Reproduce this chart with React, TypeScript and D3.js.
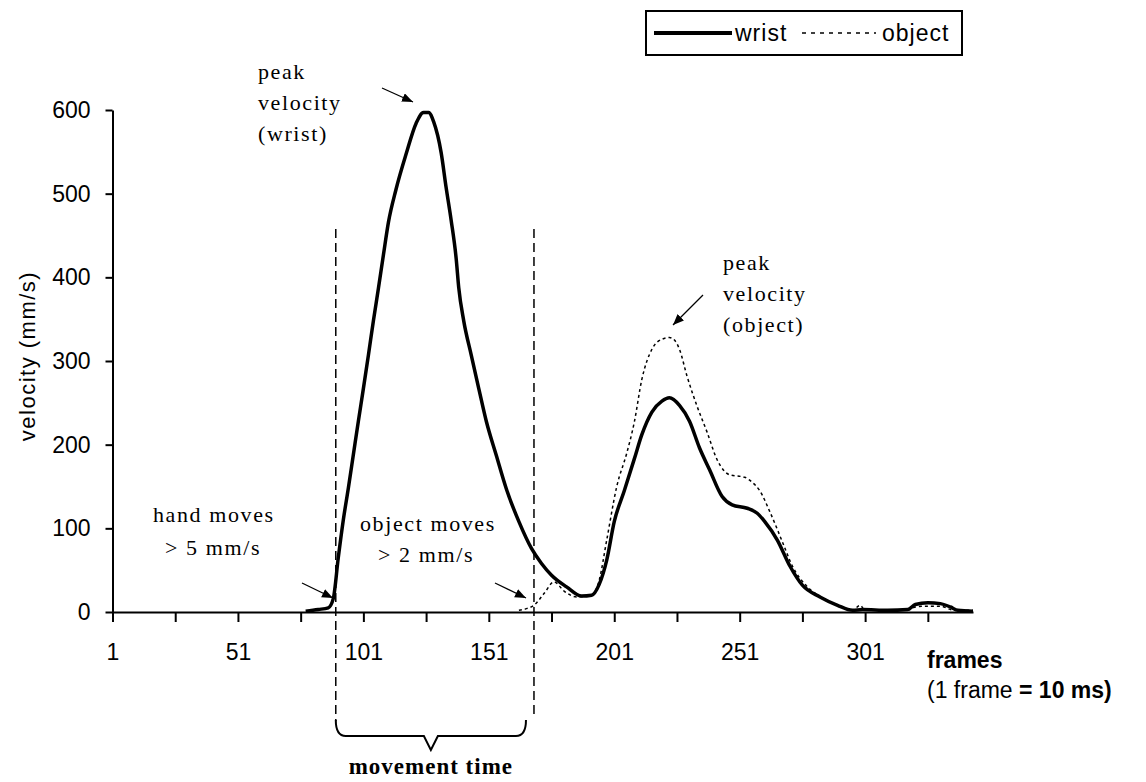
import { useEffect, useRef } from "react";
import * as d3 from "d3";

// Velocity traces: frame number -> velocity (mm/s)
const wristFrames = [78, 83, 87, 89, 91, 93, 95, 97, 99, 101, 103, 105, 107, 109, 111, 114, 118, 122, 125, 127, 129, 132, 134, 136, 138, 139, 141, 144, 147, 150, 154, 158, 163, 168, 172, 176, 182, 188, 192, 195, 198, 201, 205, 209, 212, 216, 220, 223, 227, 231, 235, 239, 244, 248, 254, 258, 261, 266, 271, 276, 283, 290, 296, 300, 310, 318, 321, 326, 331, 335, 338, 344];
const wristVelocity = [1, 3, 5, 16, 65, 110, 148, 188, 228, 267, 307, 348, 387, 427, 466, 505, 547, 584, 597, 597, 586, 549, 507, 468, 422, 388, 348, 307, 267, 228, 187, 147, 108, 76, 58, 44, 30, 19, 20, 33, 62, 108, 145, 183, 212, 239, 252, 256, 247, 228, 196, 170, 138, 128, 124, 118, 108, 86, 55, 32, 18, 8, 2, 3, 2, 3, 9, 11, 10, 6, 2, 1];

const objectFrames = [163, 166, 169, 173, 177, 181, 186, 192, 195, 198, 202, 206, 209, 212, 216, 220, 223, 225, 227, 230, 234, 238, 242, 247, 253, 256, 259, 263, 268, 272, 278, 284, 290, 296, 299, 301, 304, 318, 321, 326, 331, 335, 338, 344];
const objectVelocity = [2, 4, 8, 22, 36, 25, 18, 20, 38, 86, 150, 190, 227, 278, 314, 326, 328, 325, 314, 282, 246, 215, 182, 164, 161, 155, 145, 120, 84, 55, 30, 17, 8, 2, 8, 2, 2, 2, 6, 7, 7, 3, 2, 2];

const yTicks = [0, 100, 200, 300, 400, 500, 600];
const xTickFrames = [1, 26, 51, 76, 101, 126, 151, 176, 201, 226, 251, 276, 301, 326];
const xTickLabels = ["1", "51", "101", "151", "201", "251", "301"];

// frames where hand / object start moving (movement time markers)
const movementStart = 90;
const movementEnd = 169;

const sans = "'Liberation Sans', Arial, sans-serif";
const serif = "'Liberation Serif', 'Times New Roman', serif";

function VelocityChart() {
    const ref = useRef(null);
    const width = 1146, height = 782;

    useEffect(() => {
        const svg = d3.select(ref.current);
        svg.selectAll("*").remove();

        const x = d3.scaleLinear().domain([1, 344]).range([112.5, 973]);
        const y = d3.scaleLinear().domain([0, 600]).range([612, 110]);

        // arrow head marker for the annotations
        svg.append("defs")
            .append("marker")
            .attr("id", "arrowhead")
            .attr("markerUnits", "userSpaceOnUse")
            .attr("markerWidth", 12)
            .attr("markerHeight", 10)
            .attr("refX", 11)
            .attr("refY", 4.5)
            .attr("orient", "auto")
            .append("path")
            .attr("d", "M0,0 L11,4.5 L0,9 Z")
            .attr("fill", "black");

        // y axis
        const yAxis = svg.append("g")
            .attr("transform", `translate(${x(1)},0)`)
            .call(d3.axisLeft(y).tickValues(yTicks).tickSize(7).tickSizeOuter(0).tickPadding(15));
        yAxis.selectAll("path, line").attr("stroke", "black").attr("stroke-width", 2);
        yAxis.selectAll("text").attr("font-family", sans).attr("font-size", 23).attr("fill", "black");

        // x axis: tick every 25 frames, label every 50
        const xAxis = svg.append("g")
            .attr("transform", `translate(0,${y(0)})`)
            .call(d3.axisBottom(x)
                .tickValues(xTickFrames)
                .tickSize(10)
                .tickSizeOuter(0)
                .tickPadding(22)
                .tickFormat(d => xTickLabels.includes(String(d)) ? String(d) : ""));
        xAxis.selectAll("path, line").attr("stroke", "black").attr("stroke-width", 2);
        xAxis.selectAll("text").attr("font-family", sans).attr("font-size", 23).attr("fill", "black");

        // axis titles
        svg.append("text")
            .attr("transform", "translate(27,356) rotate(-90)")
            .attr("text-anchor", "middle")
            .attr("dy", "0.35em")
            .attr("font-family", sans)
            .attr("font-size", 22)
            .attr("letter-spacing", 1.5)
            .text("velocity (mm/s)");

        svg.append("text")
            .attr("x", 927).attr("y", 668)
            .attr("font-family", sans).attr("font-size", 23).attr("font-weight", "bold")
            .text("frames");
        const unit = svg.append("text")
            .attr("x", 927).attr("y", 698)
            .attr("font-family", sans).attr("font-size", 23);
        unit.append("tspan").text("(1 frame ");
        unit.append("tspan").attr("font-weight", "bold").text("= 10 ms)");

        // movement time markers
        [movementStart, movementEnd].forEach((f, i) => {
            svg.append("line")
                .attr("x1", x(f)).attr("x2", x(f))
                .attr("y1", 229).attr("y2", i === 0 ? 721 : 718)
                .attr("stroke", "black")
                .attr("stroke-width", 1.5)
                .attr("stroke-dasharray", "9,5");
        });
        const bx0 = x(movementStart), bx1 = x(movementEnd) - 8;
        const bmid = (bx0 + bx1) / 2;
        svg.append("path")
            .attr("d", `M${bx0},720 Q${bx0},736 ${bx0 + 10},736 L${bmid - 7},736 L${bmid},750 L${bmid + 7},736 L${bx1 - 10},736 Q${bx1},736 ${bx1},720`)
            .attr("fill", "none")
            .attr("stroke", "black")
            .attr("stroke-width", 2);
        svg.append("text")
            .attr("x", bmid).attr("y", 774)
            .attr("text-anchor", "middle")
            .attr("font-family", serif).attr("font-size", 23).attr("font-weight", "bold")
            .attr("letter-spacing", 1)
            .text("movement time");

        // velocity traces
        const line = d3.line().x(d => x(d[0])).y(d => y(d[1])).curve(d3.curveMonotoneX);

        svg.append("path")
            .datum(objectFrames.map((f, i) => [f, objectVelocity[i]]))
            .attr("d", line)
            .attr("fill", "none")
            .attr("stroke", "black")
            .attr("stroke-width", 1.5)
            .attr("stroke-dasharray", "3,3");

        svg.append("path")
            .datum(wristFrames.map((f, i) => [f, wristVelocity[i]]))
            .attr("d", line)
            .attr("fill", "none")
            .attr("stroke", "black")
            .attr("stroke-width", 3.5)
            .attr("stroke-linejoin", "round");

        // annotations
        const note = (lines, x0, y0) => {
            lines.forEach((t, i) => {
                svg.append("text")
                    .attr("x", x0).attr("y", y0 + i * 31)
                    .attr("font-family", serif).attr("font-size", 22)
                    .attr("letter-spacing", 1.6)
                    .text(t);
            });
        };
        note(["peak", "velocity", "(wrist)"], 258, 79);
        note(["peak", "velocity", "(object)"], 723, 270);
        note(["hand moves"], 153, 522);
        note(["> 5  mm/s"], 165, 555);
        note(["object moves"], 360, 531);
        note(["> 2  mm/s"], 378, 562);

        const arrows = [
            [382, 88, 413, 102],
            [703, 295, 673, 325],
            [302, 583, 333, 598],
            [495, 583, 526, 598]
        ];
        arrows.forEach(a => {
            svg.append("line")
                .attr("x1", a[0]).attr("y1", a[1])
                .attr("x2", a[2]).attr("y2", a[3])
                .attr("stroke", "black")
                .attr("stroke-width", 1.3)
                .attr("marker-end", "url(#arrowhead)");
        });

        // legend
        const legend = svg.append("g");
        legend.append("rect")
            .attr("x", 646).attr("y", 11).attr("width", 316).attr("height", 44)
            .attr("fill", "white").attr("stroke", "black").attr("stroke-width", 2);
        legend.append("line")
            .attr("x1", 654).attr("x2", 732).attr("y1", 33).attr("y2", 33)
            .attr("stroke", "black").attr("stroke-width", 4);
        legend.append("text")
            .attr("x", 735).attr("y", 33).attr("dy", "0.35em")
            .attr("font-family", sans).attr("font-size", 23).attr("letter-spacing", 1)
            .text("wrist");
        legend.append("line")
            .attr("x1", 802).attr("x2", 876).attr("y1", 33).attr("y2", 33)
            .attr("stroke", "black").attr("stroke-width", 1.5).attr("stroke-dasharray", "4,5");
        legend.append("text")
            .attr("x", 882).attr("y", 33).attr("dy", "0.35em")
            .attr("font-family", sans).attr("font-size", 23).attr("letter-spacing", 1)
            .text("object");
    }, []);

    return (
        <svg ref={ref} width={width} height={height}
             style={{ position: "absolute", left: 0, top: 0, background: "white" }} />
    );
}

export default function App() {
    return <VelocityChart />;
}
